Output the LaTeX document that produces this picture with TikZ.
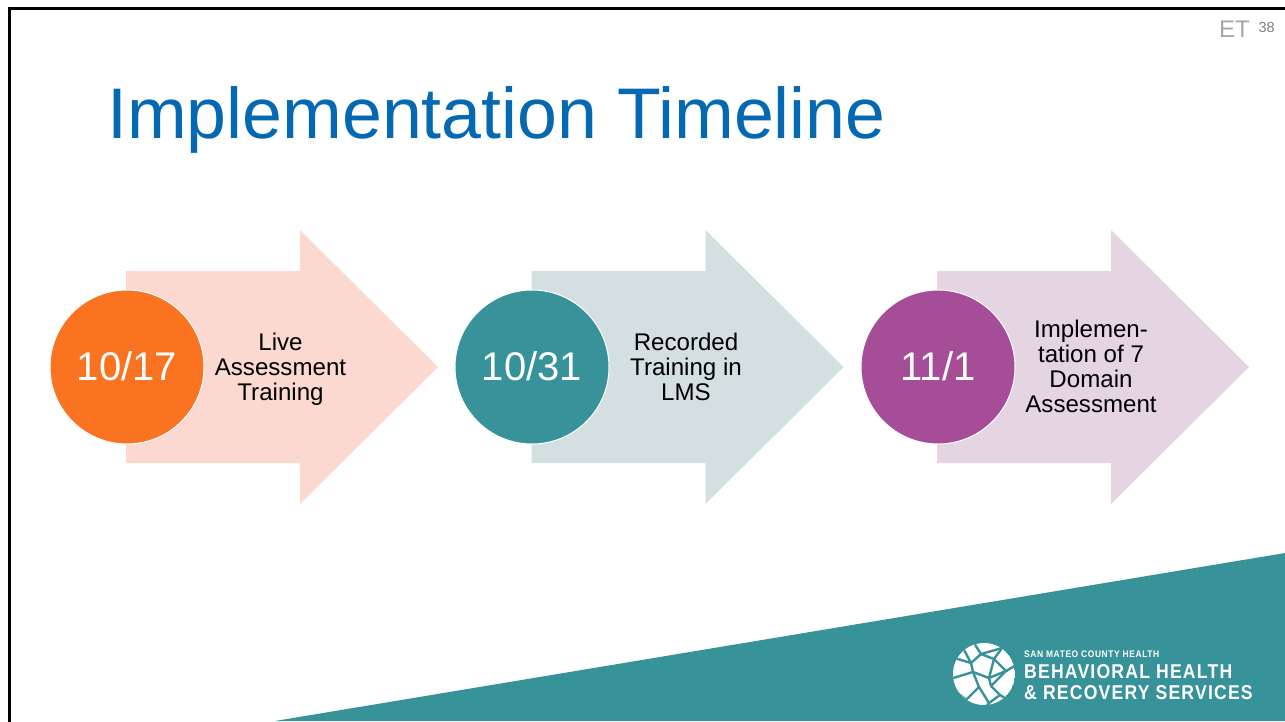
\documentclass[tikz,border=0pt]{standalone}
\usepackage{fontspec}
\setmainfont{Liberation Sans}
\newfontfamily\logofont[FakeStretch=0.88,LetterSpace=6]{Liberation Sans Bold}
\definecolor{cOrange}{HTML}{F97321}
\definecolor{cTeal}{HTML}{38929A}
\definecolor{cPurple}{HTML}{A64D98}
\definecolor{aOrange}{HTML}{FCD9D0}
\definecolor{aTeal}{HTML}{D3DFE0}
\definecolor{aPurple}{HTML}{E5D5E2}
\definecolor{cTitle}{HTML}{0568B3}
\tikzset{
  datecircle/.style={circle,draw=white,line width=1pt,minimum size=154pt,inner sep=0pt,text=white,font=\fontsize{40}{40}\selectfont},
  stagetext/.style={align=center,text=black,font=\fontsize{24.1}{25}\selectfont,inner sep=0pt},
  mesh/.style={draw=cTeal,line width=2.4pt},
  fullarrow/.pic={\fill[pic actions] (0,-96)--(174,-96)--(174,-137)--(312,0)--(174,137)--(174,96)--(0,96)--cycle;}
}
\begin{document}
\begin{tikzpicture}[x=1pt,y=-1pt]
\useasboundingbox (0,0) rectangle (1285,721);
\fill[white] (0,0) rectangle (1285,721);
\draw[black,line width=2.6pt,line cap=rect] (9.3,721)--(9.3,8.3)--(1285,8.3);
\node[anchor=base west,text=cTitle,inner sep=0pt,font=\fontsize{71.7}{72}\selectfont] (title) at (107,138) {Implementation Timeline};
\node[anchor=base east,text=black!35,inner sep=0pt,font=\fontsize{24}{24}\selectfont] (et) at (1250,37) {ET};
\node[anchor=base east,text=black!50,inner sep=0pt,font=\fontsize{14.5}{15}\selectfont] (num) at (1275,32) {38};
% arrows
\path pic[fill=aOrange] at (126,367) {fullarrow};
\path pic[fill=aTeal] at (531.5,367) {fullarrow};
\path pic[fill=aPurple] at (937,367) {fullarrow};
\node[datecircle,fill=cOrange] (d1) at (127,367) {\raisebox{1.5pt}{10/17}};
\node[datecircle,fill=cTeal] (d2) at (532,367) {\raisebox{1.5pt}{10/31}};
\node[datecircle,fill=cPurple] (d3) at (938,367) {\raisebox{1.5pt}{11/1}};
\node[stagetext] (t1) at (280.5,369) {Live\\Assessment\\Training};
\node[stagetext] (t2) at (686,367) {Recorded\\Training in\\LMS};
\node[stagetext] (t3) at (1091,366) {Implemen-\\tation of 7\\Domain\\Assessment};
% band
\fill[cTeal] (275,721)--(1285,553)--(1285,721)--cycle;
% logo
\begin{scope}
\clip (984,674) circle (31);
\fill[white] (984,674) circle (31);
\draw[mesh] (972,640)--(981,654)--(1002,648)--(1012,640);
\draw[mesh] (981,654)--(971,663)--(948,656);
\draw[mesh] (971,663)--(973,672)--(950,679);
\draw[mesh] (971,663)--(962,646);
\draw[mesh] (973,672)--(989,678)--(994,659)--(981,654);
\draw[mesh] (994,659)--(1002,648);
\draw[mesh] (994,659)--(1006,671)--(989,678);
\draw[mesh] (1006,671)--(1018,664);
\draw[mesh] (989,678)--(991,686)--(1000,695)--(989,703)--(979,687)--(973,672);
\draw[mesh] (991,686)--(1006,671);
\draw[mesh] (1000,695)--(1008,700);
\draw[mesh] (979,687)--(966,700)--(953,689);
\draw[mesh] (966,700)--(972,708);
\draw[mesh] (989,703)--(985,708);
\end{scope}
\node[anchor=base west,text=white,inner sep=0pt,font=\logofont\fontsize{9.6}{10}\selectfont] (l1) at (1024,657) {SAN MATEO COUNTY HEALTH};
\node[anchor=base west,text=white,inner sep=0pt,font=\logofont\fontsize{20}{20}\selectfont] (l2) at (1024,678) {BEHAVIORAL HEALTH};
\node[anchor=base west,text=white,inner sep=0pt,font=\logofont\fontsize{20}{20}\selectfont] (l3) at (1024,699) {\& RECOVERY SERVICES};
\end{tikzpicture}
\end{document}
